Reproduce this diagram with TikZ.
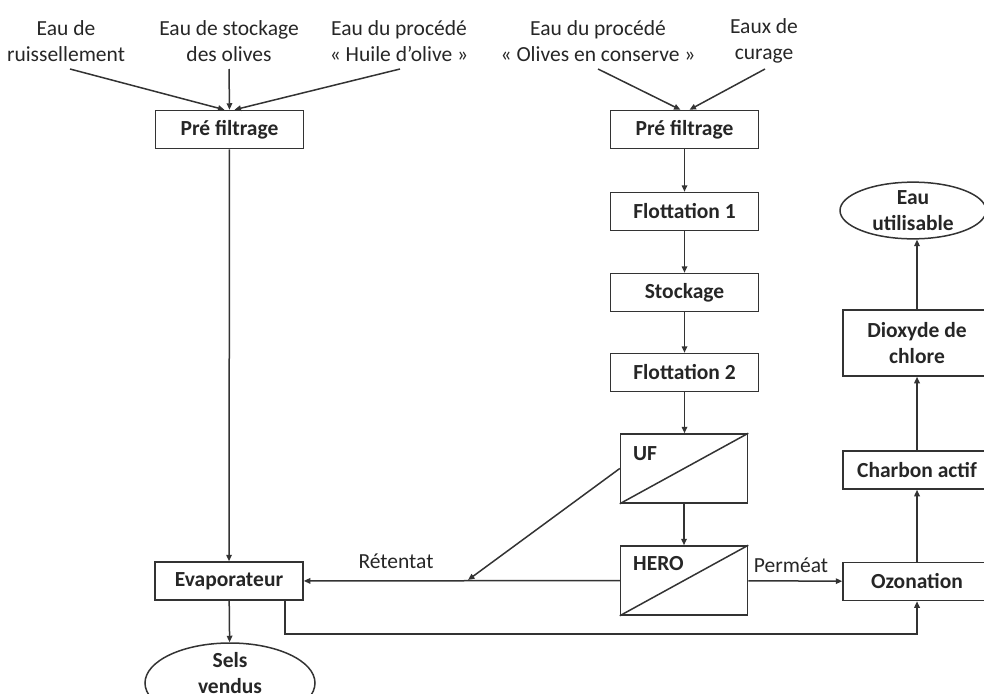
\documentclass[tikz,border=0pt]{standalone}
\usepackage{fontspec}
\setmainfont{Carlito}
\usetikzlibrary{arrows.meta,shapes.geometric}
\begin{document}
\begin{tikzpicture}[x=1pt,y=-1pt,
  every node/.style={font=\fontsize{21.5}{26}\selectfont, text=black!85},
  proc/.style={draw=black!80, line width=1.5pt, minimum width=148pt, minimum height=38pt,
    inner sep=0pt, font=\fontsize{21.5}{26}\selectfont\bfseries, align=center},
  memb/.style={draw=black!80, line width=1.5pt, minimum width=127pt, minimum height=69pt, inner sep=0pt},
  tag/.style={anchor=west, inner sep=0pt, font=\fontsize{21.5}{26}\selectfont\bfseries},
  goal/.style={ellipse, draw=black!80, line width=1.5pt, inner sep=0pt, align=center,
    font=\fontsize{21.5}{26}\selectfont\bfseries},
  src/.style={align=center, inner sep=0pt},
  flow/.style={draw=black!80, line width=1.5pt, -{Triangle[length=6.5pt,width=5.5pt]}},
]
\useasboundingbox (0,0) rectangle (984,693);
\clip (0,0) rectangle (984,693);

% water sources
\node[src] (s1) at (66,41) {Eau de\\ruissellement};
\node[src] (s2) at (229,41) {Eau de stockage\\des olives};
\node[src] (s3) at (399,41) {Eau du procédé\\« Huile d’olive »};
\node[src] (s4) at (598,41) {Eau du procédé\\« Olives en conserve »};
\node[src] (s5) at (764,41) {Eaux de\\curage};
\coordinate (c1) at (70,69);
\coordinate (c2) at (229,69);
\coordinate (c3) at (400,69);
\coordinate (c4) at (598,69);
\coordinate (c5) at (765,69);

% left line
\node[proc] (pf1) at (229.5,129.5) {Pré filtrage};
\node[proc] (evap) at (229,581) {Evaporateur};
\node[goal, minimum width=170pt, minimum height=80pt] (sels) at (230,683) {};
\node[src, font=\fontsize{21.5}{26}\selectfont\bfseries] (selst) at (230,673) {Sels\\vendus};

% right line
\node[proc] (pf2) at (684.5,129.5) {Pré filtrage};
\node[proc] (fl1) at (684.5,211.5) {Flottation 1};
\node[proc] (sto) at (684.5,292.5) {Stockage};
\node[proc] (fl2) at (684.5,372.5) {Flottation 2};
\node[memb] (uf) at (684,468.5) {};
\node[memb] (hero) at (684,580.5) {};
\draw[draw=black!80, line width=1.5pt] (uf.south west) -- (uf.north east);
\draw[draw=black!80, line width=1.5pt] (hero.south west) -- (hero.north east);
\node[tag] (ufl) at (633,453.5) {UF};
\node[tag] (herol) at (633,564) {HERO};

% finishing
\node[proc] (ozo) at (917,581.5) {Ozonation};
\node[proc] (cha) at (917,470) {Charbon actif};
\node[proc, minimum height=66pt] (dio) at (917,343) {Dioxyde de\\chlore};
\node[goal, minimum width=146pt, minimum height=55pt] (eau) at (913,210.5) {Eau\\utilisable};

% connectors
\draw[flow] (c1) -- ([xshift=-5pt]pf1.north);
\draw[flow] (c2) -- (pf1.north);
\draw[flow] (c3) -- ([xshift=5pt]pf1.north);
\draw[flow] (c4) -- ([xshift=-4pt]pf2.north);
\draw[flow] (c5) -- ([xshift=5pt]pf2.north);
\draw[flow] (pf1) -- (evap);
\draw[flow] (evap) -- (sels);
\draw[flow] (pf2) -- (fl1);
\draw[flow] (fl1) -- (sto);
\draw[flow] (sto) -- (fl2);
\draw[flow] (fl2.south) -- (fl2.south |- uf.north);
\draw[flow] (uf) -- (hero);
\draw[flow] (hero) -- (ozo);
\node (perm) at (791,565) {Perméat};
\draw[flow] (hero) -- (evap);
\node (ret) at (396,561) {Rétentat};
\coordinate (ufj) at (468,580);
\draw[flow] (uf.west) -- (ufj);
\draw[flow] ([xshift=56pt]evap.south) -- ++(0,33) -| (ozo.south);
\draw[flow] (ozo) -- (cha);
\draw[flow] (cha) -- (dio);
\draw[flow] (dio.north) -- (dio.north |- eau.south);
\end{tikzpicture}
\end{document}
